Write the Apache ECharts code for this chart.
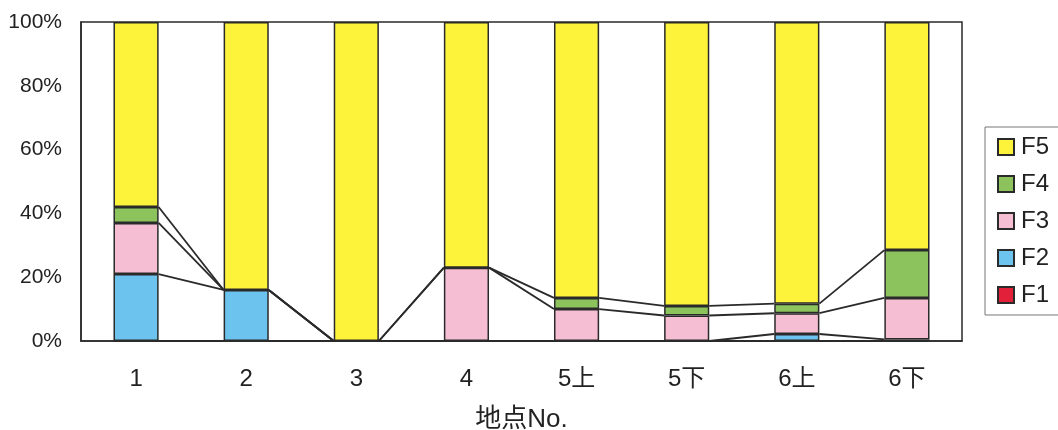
<!DOCTYPE html>
<html>
<head>
<meta charset="utf-8">
<script src="https://cdn.jsdelivr.net/npm/echarts@6/dist/echarts.min.js"></script>
<style>html,body{margin:0;padding:0;background:#fff;}#c{width:1058px;height:430px;}</style>
</head>
<body>
<div id="c"></div>
<script>
var categories = ['1', '2', '3', '4', '5上', '5下', '6上', '6下'];
var F1 = [0, 0, 0, 0, 0, 0, 0, 0];
var F2 = [21, 16, 0, 0, 0, 0, 2.2, 0.5];
var F3 = [16, 0, 0, 23, 10, 8, 6.5, 13];
var F4 = [5, 0, 0, 0, 3.5, 3, 3, 15];
var F5 = [58, 84, 100, 77, 86.5, 89, 88.3, 71.5];
var yTicks = [0, 20, 40, 60, 80, 100];

var names = ['F1', 'F2', 'F3', 'F4', 'F5'];
var values = [F1, F2, F3, F4, F5];
var colors = ['#e2203a', '#6cc3ee', '#f6bed3', '#8cc35c', '#fdf33a'];
var FONT = "'Liberation Sans', 'Noto Sans CJK JP', sans-serif";
var BAR_RATIO = 0.41;

var cum = [];
var run = categories.map(function () { return 0; });
values.forEach(function (arr) {
  run = run.map(function (v, i) { return v + arr[i]; });
  cum.push(run.slice());
});

var series = [];
names.forEach(function (n, k) {
  series.push({
    name: n, type: 'bar', stack: 'all', data: values[k], barWidth: (BAR_RATIO * 100) + '%',
    itemStyle: { color: colors[k], borderColor: '#2a2a2a', borderWidth: 1.5 },
    emphasis: { disabled: true }
  });
});

var lineData = [];
for (var k = 0; k < 4; k++) {
  for (var i = 0; i < categories.length - 1; i++) {
    lineData.push([i, cum[k][i], cum[k][i + 1]]);
  }
}
series.push({
  type: 'custom', silent: true, z: 5,
  encode: { x: 0, y: [1, 2] },
  data: lineData,
  renderItem: function (params, api) {
    var i = api.value(0);
    var half = api.size([1, 0])[0] * BAR_RATIO / 2;
    var p0 = api.coord([i, api.value(1)]);
    var p1 = api.coord([i + 1, api.value(2)]);
    return {
      type: 'line',
      shape: { x1: p0[0] + half, y1: p0[1], x2: p1[0] - half, y2: p1[1] },
      style: { stroke: '#2a2a2a', lineWidth: 1.8 }
    };
  }
});

var chart = echarts.init(document.getElementById('c'));
chart.setOption({
  animation: false,
  backgroundColor: '#fff',
  textStyle: { fontFamily: FONT },
  grid: { left: 81, top: 22, right: 96, bottom: 89, outerBoundsMode: 'none', containLabel: false,
    show: true, borderColor: '#2a2a2a', borderWidth: 1.5, backgroundColor: 'transparent' },
  legend: {
    orient: 'vertical', left: 985, top: 127,
    data: ['F5', 'F4', 'F3', 'F2', 'F1'],
    icon: 'rect',
    itemWidth: 16, itemHeight: 16, itemGap: 13,
    padding: [8, 60, 8, 12],
    borderColor: '#777', borderWidth: 1,
    textStyle: { fontSize: 24, color: '#222', fontFamily: FONT, padding: [0, 0, 0, 2] },
    selectedMode: false
  },
  xAxis: {
    type: 'category', data: categories,
    name: '地点No.', nameLocation: 'middle', nameGap: 66, nameMoveOverlap: false,
    nameTextStyle: { fontSize: 26, color: '#222', fontFamily: FONT, verticalAlign: 'top' },
    axisLine: { lineStyle: { color: '#2a2a2a', width: 1.5 } },
    axisTick: { inside: true, length: 6, lineStyle: { color: '#2a2a2a', width: 1.5 } },
    axisLabel: { fontSize: 24, color: '#222', margin: 26, fontFamily: FONT }
  },
  yAxis: {
    type: 'value', min: yTicks[0], max: yTicks[yTicks.length - 1], interval: 20,
    axisLine: { show: true, lineStyle: { color: '#2a2a2a', width: 1.5 } },
    axisTick: { show: false },
    splitLine: { show: false },
    axisLabel: { fontSize: 21, color: '#222', margin: 19, fontFamily: FONT, formatter: '{value}%' }
  },
  series: series
});
</script>
</body>
</html>
